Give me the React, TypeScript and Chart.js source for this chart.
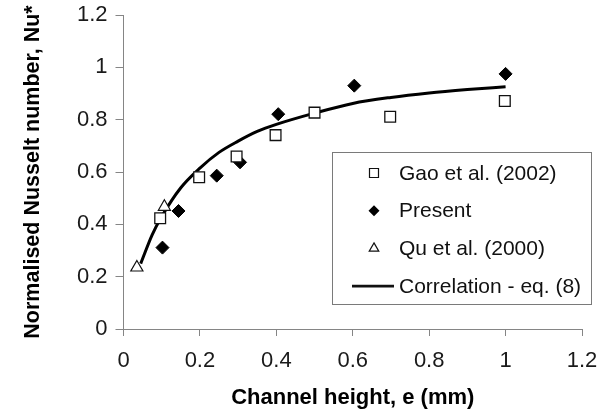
import React, { useEffect, useRef } from 'react';
import { Chart, registerables } from 'chart.js';

Chart.register(...registerables);

// ---- data ----
const seriesLabels = ['Gao et al. (2002)', 'Present', 'Qu et al. (2000)', 'Correlation - eq. (8)'];

const gaoX = [0.096, 0.198, 0.296, 0.398, 0.5, 0.698, 0.998];
const gaoY = [0.423, 0.58, 0.659, 0.741, 0.827, 0.811, 0.871];

const presentX = [0.102, 0.144, 0.244, 0.305, 0.405, 0.604, 1.0];
const presentY = [0.311, 0.451, 0.586, 0.637, 0.821, 0.93, 0.975];

const quX = [0.035, 0.107];
const quY = [0.235, 0.467];

const corrX = [0.045, 0.075, 0.1, 0.15, 0.2, 0.25, 0.3, 0.35, 0.4, 0.5, 0.6, 0.7, 0.8, 0.9, 1.0];
const corrY = [0.25, 0.36, 0.43, 0.54, 0.615, 0.675, 0.718, 0.755, 0.782, 0.825, 0.862, 0.885, 0.902, 0.915, 0.926];

const xTickLabels = ['0', '0.2', '0.4', '0.6', '0.8', '1', '1.2'];
const yTickLabels = ['0', '0.2', '0.4', '0.6', '0.8', '1', '1.2'];

const xTitle = 'Channel height, e (mm)';
const yTitle = 'Normalised Nusselt number, Nu*';

const FONT = "'Liberation Sans', Arial, sans-serif";

const pts = (xs: number[], ys: number[]) => xs.map((x, i) => ({ x, y: ys[i] }));

const legendPlugin = {
  id: 'boxedLegend',
  afterDraw(chart: any) {
    const ctx = chart.ctx as CanvasRenderingContext2D;
    const bx = 332.5, by = 152.5, bw = 259, bh = 152;
    ctx.save();
    ctx.fillStyle = '#ffffff';
    ctx.fillRect(bx, by, bw, bh);
    ctx.strokeStyle = '#7a7a7a';
    ctx.lineWidth = 1;
    ctx.strokeRect(bx, by, bw, bh);
    chart.data.datasets.forEach((ds: any, i: number) => {
      const cy = 173 + i * 37.7;
      const mx = 374;
      ctx.lineWidth = 1.2;
      ctx.strokeStyle = '#111';
      if (ds.showLine) {
        ctx.beginPath();
        ctx.lineWidth = 2.8;
        ctx.moveTo(352, cy);
        ctx.lineTo(394, cy);
        ctx.stroke();
      } else if (ds.pointStyle === 'rect') {
        ctx.fillStyle = '#fff';
        ctx.beginPath();
        ctx.rect(mx - 4.5, cy - 4.5, 9, 9);
        ctx.fill();
        ctx.stroke();
      } else if (ds.pointStyle === 'rectRot') {
        const r = 5.5;
        ctx.fillStyle = '#000';
        ctx.beginPath();
        ctx.moveTo(mx, cy - r);
        ctx.lineTo(mx + r, cy);
        ctx.lineTo(mx, cy + r);
        ctx.lineTo(mx - r, cy);
        ctx.closePath();
        ctx.fill();
      } else if (ds.pointStyle === 'triangle') {
        const r = 5.5;
        ctx.fillStyle = '#fff';
        ctx.beginPath();
        ctx.moveTo(mx, cy - r);
        ctx.lineTo(mx + r * 0.866, cy + r * 0.5);
        ctx.lineTo(mx - r * 0.866, cy + r * 0.5);
        ctx.closePath();
        ctx.fill();
        ctx.stroke();
      }
      ctx.fillStyle = '#111';
      ctx.font = `21px ${FONT}`;
      ctx.textAlign = 'left';
      ctx.textBaseline = 'middle';
      ctx.fillText(ds.label, 399, cy + 1);
    });
    ctx.restore();
  },
};

export default function App() {
  const canvasRef = useRef<HTMLCanvasElement | null>(null);

  useEffect(() => {
    if (!canvasRef.current) return;
    const chart = new Chart(canvasRef.current, {
      type: 'scatter',
      data: {
        datasets: [
          {
            label: seriesLabels[0],
            data: pts(gaoX, gaoY),
            pointStyle: 'rect',
            pointRadius: 7.6,
            pointBackgroundColor: '#ffffff',
            pointBorderColor: '#111111',
            pointBorderWidth: 1.3,
            order: 1,
          },
          {
            label: seriesLabels[1],
            data: pts(presentX, presentY),
            pointStyle: 'rectRot',
            pointRadius: 6.5,
            pointBackgroundColor: '#000000',
            pointBorderColor: '#000000',
            pointBorderWidth: 1,
            order: 1,
          },
          {
            label: seriesLabels[2],
            data: pts(quX, quY),
            pointStyle: 'triangle',
            pointRadius: 7,
            pointBackgroundColor: '#ffffff',
            pointBorderColor: '#111111',
            pointBorderWidth: 1.2,
            order: 1,
          },
          {
            label: seriesLabels[3],
            data: pts(corrX, corrY),
            showLine: true,
            pointRadius: 0,
            borderColor: '#000000',
            borderWidth: 3,
            cubicInterpolationMode: 'monotone',
            order: 5,
          },
        ],
      } as any,
      options: {
        responsive: false,
        animation: false,
        layout: { padding: { top: 15, right: 26, bottom: 0, left: 0 } },
        plugins: {
          legend: { display: false },
          tooltip: { enabled: false },
        },
        scales: {
          x: {
            type: 'linear',
            min: 0,
            max: 1.2,
            ticks: {
              stepSize: 0.2,
              color: '#1a1a1a',
              font: { family: FONT, size: 22 },
              padding: 12,
              maxRotation: 0,
              callback: (_v: any, i: number) => xTickLabels[i],
            },
            grid: { drawOnChartArea: false, drawTicks: true, tickLength: 7, color: '#858585' },
            border: { color: '#858585', width: 1 },
            title: {
              display: true,
              text: xTitle,
              color: '#000',
              font: { family: FONT, size: 22, weight: 'bold' },
              padding: { top: 0, bottom: 1 },
            },
            afterFit: (s: any) => {
              s.height = 83;
              s.paddingLeft = 0;
              s.paddingRight = 0;
            },
          },
          y: {
            type: 'linear',
            min: 0,
            max: 1.2,
            ticks: {
              stepSize: 0.2,
              color: '#1a1a1a',
              font: { family: FONT, size: 22 },
              padding: 8,
              callback: (_v: any, i: number) => yTickLabels[i],
            },
            grid: { drawOnChartArea: false, drawTicks: true, tickLength: 8, color: '#858585' },
            border: { color: '#858585', width: 1 },
            title: {
              display: true,
              text: yTitle,
              color: '#000',
              font: { family: FONT, size: 21.5, weight: 'bold' },
              padding: { top: 20, bottom: 0 },
            },
            afterFit: (s: any) => {
              s.width = 123.5;
              s.paddingTop = 0;
              s.paddingBottom = 0;
            },
          },
        },
      } as any,
      plugins: [legendPlugin],
    });
    return () => chart.destroy();
  }, []);

  return (
    <div style={{ position: 'fixed', left: 0, top: 0, width: 608, height: 412, background: '#ffffff' }}>
      <canvas ref={canvasRef} width={608} height={412} style={{ display: 'block' }} />
    </div>
  );
}
